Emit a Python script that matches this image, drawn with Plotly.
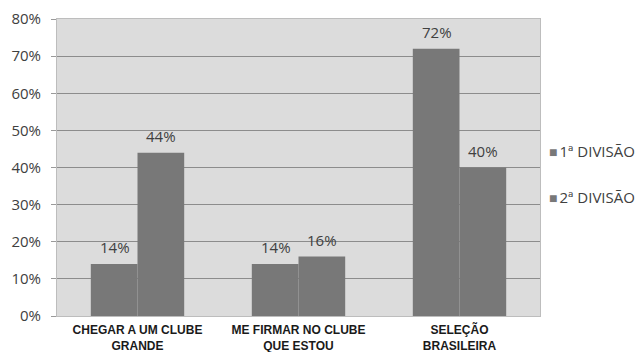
import plotly.graph_objects as go

categories = ["CHEGAR A UM CLUBE<br>GRANDE", "ME FIRMAR NO CLUBE<br>QUE ESTOU", "SELEÇÃO<br>BRASILEIRA"]
series_names = ["1ª DIVISÃO", "2ª DIVISÃO"]
div1_values = [14, 14, 72]
div2_values = [44, 16, 40]
y_ticks = [0, 10, 20, 30, 40, 50, 60, 70, 80]
y_tick_labels = [f"{t}%" for t in y_ticks]

bar_color = "#787878"
text_color = "#404040"
label_font = dict(family="Open Sans", size=15, color=text_color)

fig = go.Figure()
all_series = [div1_values, div2_values]
for i, (name, vals) in enumerate(zip(series_names, all_series)):
    fig.add_trace(go.Bar(
        x=categories, y=vals, name=name,
        marker=dict(color=bar_color, line=dict(width=0)),
        showlegend=False,
    ))

# value labels above each bar (bars are ~46 px wide, side by side)
annotations = []
for i, vals in enumerate(all_series):
    shift = -23 if i == 0 else 23
    for cat, v in zip(categories, vals):
        annotations.append(dict(
            x=cat, y=v, xref="x", yref="y", text=f"{v}%", showarrow=False,
            xshift=shift, yshift=17, font=label_font,
        ))

# legend entries to the right of the plot area
legend_y = [0.556, 0.401]
for name, ly in zip(series_names, legend_y):
    annotations.append(dict(
        x=1.015, y=ly, xref="paper", yref="paper",
        xanchor="left", yanchor="middle", showarrow=False,
        text=(f"<span style='color:{bar_color}; font-size:14px'>■</span>"
              f"<span style='font-size:8px'> </span>{name}"),
        font=label_font,
    ))

fig.update_layout(
    width=640, height=352,
    margin=dict(l=57, r=100, t=19, b=36, autoexpand=False),
    paper_bgcolor="white", plot_bgcolor="#dcdcdc",
    barmode="group", bargap=0.42, bargroupgap=0,
    showlegend=False,
    annotations=annotations,
    yaxis=dict(range=[0, 80], tickmode="array", tickvals=y_ticks, ticktext=y_tick_labels,
               tickfont=label_font, ticklabelstandoff=7,
               showgrid=True, gridcolor="#8c8c8c", gridwidth=1,
               zeroline=False, showline=True, linecolor="#bdbdbd", mirror=True,
               ticks="outside", ticklen=5, tickcolor="#9a9a9a"),
    xaxis=dict(tickfont=dict(family="Liberation Sans", size=12, color="#1a1a1a", weight="bold"),
               ticklabelstandoff=3,
               showline=True, linecolor="#bdbdbd", mirror=True, ticks=""),
)

fig.write_html("out.html")
